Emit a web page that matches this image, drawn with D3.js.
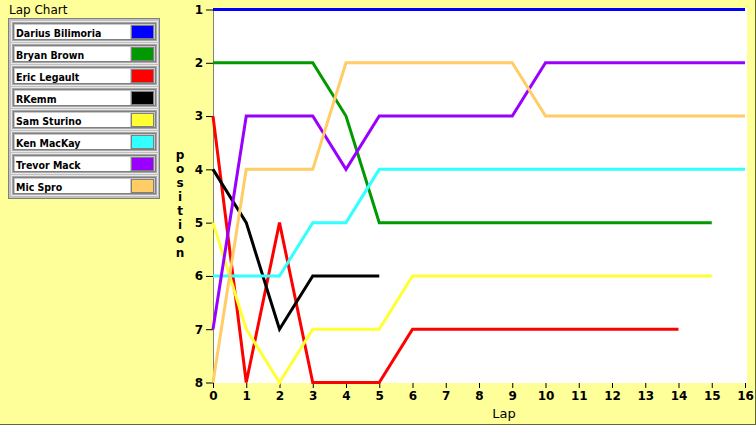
<!DOCTYPE html>
<html>
<head>
<meta charset="utf-8">
<script src="https://cdn.jsdelivr.net/npm/d3@7"></script>
<style>
  body { margin: 0; background: #ffff99; }
  svg { display: block; }
  text { font-family: "DejaVu Sans", Verdana, sans-serif; }
  .leg { font-family: "DejaVu Sans Condensed", "DejaVu Sans", sans-serif; }
</style>
</head>
<body>
<svg width="756" height="425"></svg>
<script>
// lap chart data
const drivers = ["Darius Bilimoria", "Bryan Brown", "Eric Legault", "RKemm",
                 "Sam Sturino", "Ken MacKay", "Trevor Mack", "Mic Spro"];
const colors = ["#0000ff", "#009900", "#ff0000", "#000000",
                "#ffff33", "#33ffff", "#9900ff", "#ffcc66"];
const lapTicks = d3.range(0, 17);
const posTicks = [1, 2, 3, 4, 5, 6, 7, 8];

// position per lap, index = lap number
const darius = [1, 1, 1, 1, 1, 1, 1, 1, 1, 1, 1, 1, 1, 1, 1, 1, 1];
const bryan  = [2, 2, 2, 2, 3, 5, 5, 5, 5, 5, 5, 5, 5, 5, 5, 5];
const eric   = [3, 8, 5, 8, 8, 8, 7, 7, 7, 7, 7, 7, 7, 7, 7];
const rkemm  = [4, 5, 7, 6, 6, 6];
const sam    = [5, 7, 8, 7, 7, 7, 6, 6, 6, 6, 6, 6, 6, 6, 6, 6];
const ken    = [6, 6, 6, 5, 5, 4, 4, 4, 4, 4, 4, 4, 4, 4, 4, 4, 4];
const trevor = [7, 3, 3, 3, 4, 3, 3, 3, 3, 3, 2, 2, 2, 2, 2, 2, 2];
const mic    = [8, 4, 4, 4, 2, 2, 2, 2, 2, 2, 3, 3, 3, 3, 3, 3, 3];
const series = [darius, bryan, eric, rkemm, sam, ken, trevor, mic];

const svg = d3.select("svg");

// frame borders
svg.append("line").attr("x1", 0).attr("x2", 756).attr("y1", 424.5).attr("y2", 424.5)
   .attr("stroke", "#666633");
svg.append("line").attr("x1", 755.5).attr("x2", 755.5).attr("y1", 0).attr("y2", 425)
   .attr("stroke", "#666633");

const x = d3.scaleLinear().domain([0, 16]).range([213, 745]);
const y = d3.scaleLinear().domain([1, 8]).range([9.5, 382.5]);

// plot background
svg.append("rect")
   .attr("x", 213).attr("y", 8)
   .attr("width", 747 - 213).attr("height", 383 - 8)
   .attr("fill", "#ffffff");

// axes
const yAxis = svg.append("g")
   .attr("transform", "translate(213,0)")
   .call(d3.axisLeft(y).tickValues(posTicks).tickSize(7).tickPadding(3).tickFormat(d3.format("d")));
const xAxis = svg.append("g")
   .attr("transform", "translate(0,383)")
   .call(d3.axisBottom(x).tickValues(lapTicks).tickSize(5).tickPadding(3).tickFormat(d3.format("d")));

[xAxis, yAxis].forEach(a => {
  a.select(".domain").remove();
  a.selectAll(".tick line").attr("stroke", "#000");
  a.selectAll(".tick text")
   .attr("fill", "#000")
   .style("font-size", "12px")
   .style("font-weight", "bold");
});

svg.append("line")
   .attr("x1", 213.5).attr("x2", 213.5).attr("y1", 8).attr("y2", 383)
   .attr("stroke", "#808080");

// lines
const line = d3.line()
   .x((d, i) => x(i))
   .y(d => y(d));

svg.append("g").selectAll("path")
   .data(series)
   .enter().append("path")
   .attr("d", d => line(d))
   .attr("fill", "none")
   .attr("stroke", (d, i) => colors[i])
   .attr("stroke-width", 3);

// axis titles
svg.append("text")
   .attr("x", 504).attr("y", 418)
   .attr("text-anchor", "middle")
   .style("font-size", "13px")
   .text("Lap");

svg.append("g").selectAll("text")
   .data("position".split(""))
   .enter().append("text")
   .attr("x", 180)
   .attr("y", (d, i) => 159 + i * 14)
   .attr("text-anchor", "middle")
   .style("font-size", "12px")
   .style("font-weight", "bold")
   .text(d => d);

// title and legend
svg.append("text")
   .attr("x", 9).attr("y", 14)
   .style("font-size", "12px")
   .text("Lap Chart");

const legend = svg.append("g");
legend.append("rect")
   .attr("x", 8.5).attr("y", 18.5).attr("width", 151).attr("height", 180)
   .attr("fill", "#c0c0c0").attr("stroke", "#808080");

const row = legend.selectAll("g.row")
   .data(drivers)
   .enter().append("g")
   .attr("class", "row")
   .attr("transform", (d, i) => "translate(0," + (22 * i) + ")");

row.append("rect")
   .attr("x", 11.5).attr("y", 21.5).attr("width", 146).attr("height", 20)
   .attr("fill", "#a8a8a8").attr("stroke", "#e8e8e8");
row.append("rect")
   .attr("x", 13.5).attr("y", 23.5).attr("width", 142).attr("height", 16)
   .attr("fill", "#c8c8c8").attr("stroke", "#808080");
row.append("rect")
   .attr("x", 15).attr("y", 25).attr("width", 115).attr("height", 14)
   .attr("fill", "#ffffff");
row.append("rect")
   .attr("x", 131.5).attr("y", 25.5).attr("width", 22).attr("height", 13)
   .attr("fill", (d, i) => colors[i]).attr("stroke", "#808080");
row.append("text")
   .attr("class", "leg")
   .attr("x", 16).attr("y", 37)
   .style("font-size", "10.5px")
   .style("font-weight", "bold")
   .text(d => d);
</script>
</body>
</html>
